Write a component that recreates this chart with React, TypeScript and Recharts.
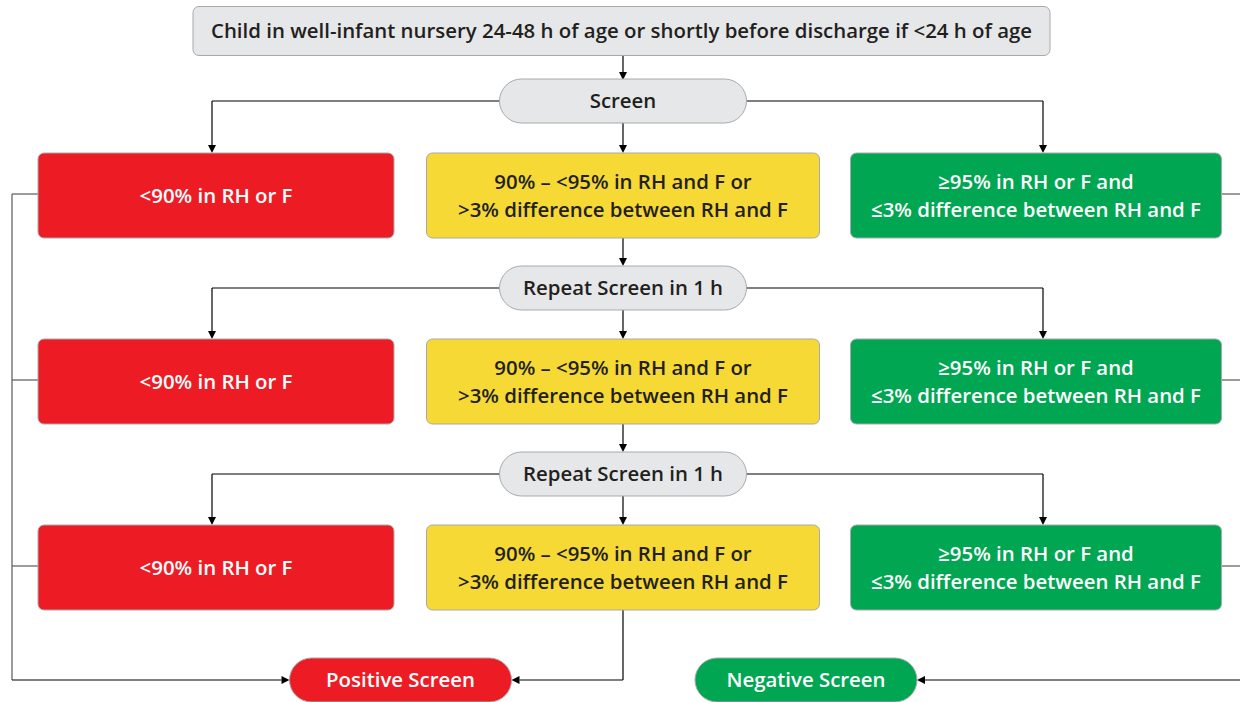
import React from 'react';
import { ScatterChart, Scatter, XAxis, YAxis, ReferenceLine } from 'recharts';

// texts of the flowchart
const topLabel = ['Child in well-infant nursery 24-48 h of age or shortly before discharge if <24 h of age'];
const screenLabels = [['Screen'], ['Repeat Screen in 1 h'], ['Repeat Screen in 1 h']];
const resultLabels = [
  ['<90% in RH or F'],
  ['90% – <95% in RH and F or', '>3% difference between RH and F'],
  ['≥95% in RH or F and', '≤3% difference between RH and F'],
];
const outcomeLabels = [['Positive Screen'], ['Negative Screen']];

// layout grid (diagram units = px, domain 0..1240 x 0..702)
const W = 1240;
const H = 702;
const colX = [216, 623, 1036];
const colW = [356, 393, 371];
const screenY = [101, 288, 474];
const resultY = [195.5, 381.5, 567.5];
const outcomeX = [400.5, 806];
const outY = 680;
const busL = 12;
const busR = 1240;

const RED = '#ed1c24';
const YELLOW = '#f6d935';
const GREEN = '#00a651';
const GRAY = '#e6e7e8';
const INK = '#231f20';
const resultFill = [RED, YELLOW, GREEN];
const resultText = ['#fff', INK, '#fff'];

type Node = { x: number; y: number; w: number; h: number; pill: boolean; fill: string; color: string; lines: string[] };

const nodes: Node[] = [
  { x: 621.5, y: 31, w: 857, h: 49, pill: false, fill: GRAY, color: INK, lines: topLabel },
  ...screenLabels.map((l, i) => ({ x: 623, y: screenY[i], w: 247, h: 44, pill: true, fill: GRAY, color: INK, lines: l })),
  ...resultY.flatMap((y) =>
    resultLabels.map((l, c) => ({ x: colX[c], y, w: colW[c], h: 85, pill: false, fill: resultFill[c], color: resultText[c], lines: l }))
  ),
  ...outcomeLabels.map((l, i) => ({ x: outcomeX[i], y: outY, w: 222, h: 44, pill: true, fill: i === 0 ? RED : GREEN, color: '#fff', lines: l })),
];

type Path = { pts: [number, number][]; arrow: boolean; color?: string };
const paths: Path[] = [{ pts: [[623, 55.5], [623, 80]], arrow: true }];
screenY.forEach((y, i) => {
  const top = resultY[i] - 42.5;
  paths.push({ pts: [[499.5, y], [212, y], [212, top]], arrow: true });
  paths.push({ pts: [[746, y], [1043, y], [1043, top]], arrow: true });
  paths.push({ pts: [[623, y + 22], [623, top]], arrow: true });
  if (i < 2) paths.push({ pts: [[623, resultY[i] + 42.5], [623, screenY[i + 1] - 22]], arrow: true });
});
paths.push({ pts: [[623, resultY[2] + 42.5], [623, outY], [outcomeX[0] + 111, outY]], arrow: true });
resultY.forEach((y) => {
  paths.push({ pts: [[busL, y - 1.5], [colX[0] - 178, y - 1.5]], arrow: false, color: '#58595b' });
  paths.push({ pts: [[colX[2] + 185.5, y - 1.5], [busR, y - 1.5]], arrow: false, color: '#58595b' });
});
paths.push({ pts: [[busL, resultY[0] - 1.5], [busL, outY]], arrow: false, color: '#58595b' });
paths.push({ pts: [[busL, outY], [outcomeX[0] - 111, outY]], arrow: true });
paths.push({ pts: [[busR, outY], [outcomeX[1] + 111, outY]], arrow: true });

const segShape = (arrow: boolean, color: string) => (props: any) => {
  const { x1, y1, x2, y2 } = props;
  const dx = x2 - x1;
  const dy = y2 - y1;
  const len = Math.sqrt(dx * dx + dy * dy) || 1;
  const ux = dx / len;
  const uy = dy / len;
  const al = 8;
  const aw = 4;
  const bx = x2 - ux * al;
  const by = y2 - uy * al;
  return (
    <g>
      <line x1={x1} y1={y1} x2={arrow ? bx : x2} y2={arrow ? by : y2} stroke={color} strokeWidth={1.2} />
      {arrow && (
        <polygon
          points={`${x2},${y2} ${bx - uy * aw},${by + ux * aw} ${bx + uy * aw},${by - ux * aw}`}
          fill={color}
        />
      )}
    </g>
  );
};

const NodeShape = (props: any) => {
  const { cx, cy, payload } = props;
  const { w, h, pill, fill, color, lines } = payload as Node;
  const r = pill ? h / 2 : 6;
  const lh = 28;
  return (
    <g>
      <rect x={cx - w / 2} y={cy - h / 2} width={w} height={h} rx={r} ry={r} fill={fill} stroke="#a7a9ac" strokeWidth={1} />
      {lines.map((t, i) => (
        <text
          key={i}
          x={cx}
          y={cy + (i - (lines.length - 1) / 2) * lh - 1}
          textAnchor="middle"
          dominantBaseline="central"
          fill={color}
          fontSize={20.4}
          fontWeight={600}
          fontFamily="'Open Sans', Lato, sans-serif"
        >
          {t}
        </text>
      ))}
    </g>
  );
};

export default function App() {
  return (
    <div style={{ position: 'absolute', left: 0, top: 0, width: W, height: H, background: '#fff' }}>
      <ScatterChart width={W} height={H} margin={{ top: 0, right: 0, bottom: 0, left: 0 }}>
        <XAxis type="number" dataKey="x" domain={[0, W]} hide allowDataOverflow />
        <YAxis type="number" dataKey="y" domain={[0, H]} reversed hide allowDataOverflow />
        {paths.flatMap((p, pi) =>
          p.pts.slice(1).map((pt, si) => {
            const prev = p.pts[si];
            const last = si === p.pts.length - 2;
            return (
              <ReferenceLine
                key={`${pi}-${si}`}
                ifOverflow="visible"
                segment={[{ x: prev[0], y: prev[1] }, { x: pt[0], y: pt[1] }]}
                shape={segShape(p.arrow && last, p.color || '#000')}
              />
            );
          })
        )}
        <Scatter data={nodes} shape={NodeShape} isAnimationActive={false} />
      </ScatterChart>
    </div>
  );
}
